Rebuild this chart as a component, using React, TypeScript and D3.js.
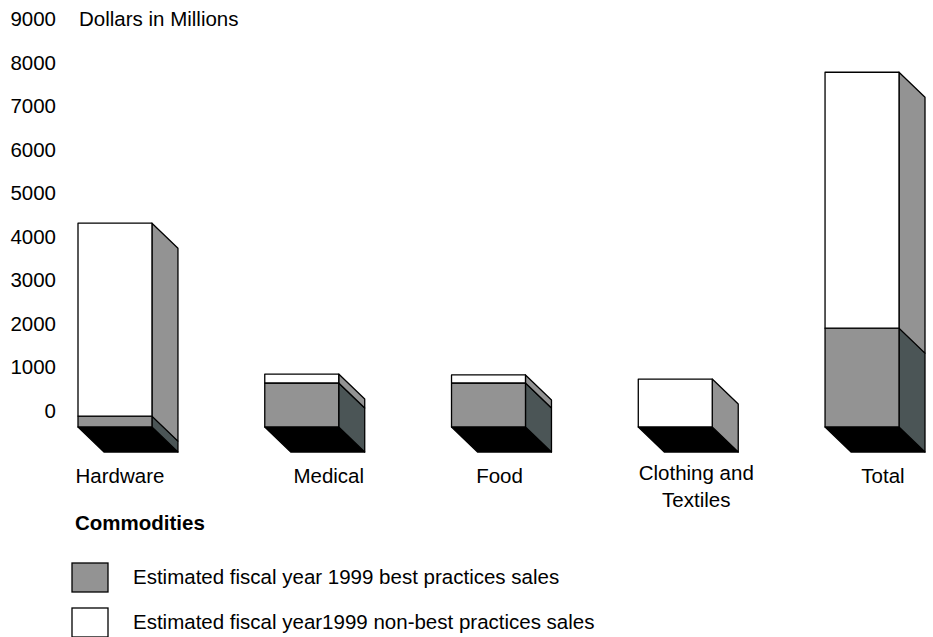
import React from "react";
import * as d3 from "d3";

// values in millions of dollars
const categories = ["Hardware", "Medical", "Food", "Clothing and Textiles", "Total"];
const bestPractices = [250, 1010, 1010, 0, 2270];
const nonBestPractices = [4430, 205, 185, 1100, 5875];
const yTicks = [0, 1000, 2000, 3000, 4000, 5000, 6000, 7000, 8000, 9000];
const legendLabels = [
  "Estimated fiscal year 1999 best practices sales",
  "Estimated fiscal year1999 non-best practices sales",
];
const categoryLines: Record<string, string[]> = {
  "Clothing and Textiles": ["Clothing and", "Textiles"],
};
// small horizontal nudges of the category labels, as in the original
const labelNudge = [5, 27, 11, 21, 21];

const W = 933;
const H = 637;
const DX = 26;
const DY = 25;
const FONT = "'Liberation Sans', Arial, sans-serif";

const GRAY = "#939393";
const SLATE = "#4b5556";

const x = d3.scaleBand<string>().domain(categories).range([78, 899]).paddingInner(0.604).paddingOuter(0);
const y = d3.scaleLinear().domain([0, 9000]).range([427, 35]);

const T = ({ x: tx, y: ty, children, anchor = "start", weight = 400 }: any) => (
  <text x={tx} y={ty} textAnchor={anchor} fontFamily={FONT} fontSize={20.5} fontWeight={weight} fill="#000">
    {children}
  </text>
);

const poly = (pts: [number, number][]) => pts.map((p) => p.join(",")).join(" ");

export default function App() {
  const bw = x.bandwidth();
  return (
    <div style={{ position: "absolute", left: 0, top: 0 }}>
      <svg width={W} height={H} style={{ display: "block", background: "#fff" }}>
        {yTicks.map((t) => (
          <T key={t} x={56} y={y(t) - 9} anchor="end">
            {t}
          </T>
        ))}
        <T x={79} y={y(9000) - 9}>Dollars in Millions</T>

        {categories.map((c, i) => {
          const x0 = x(c)!;
          const x1 = x0 + bw;
          const y0 = y(0);
          const yB = y(bestPractices[i]);
          const yT = y(bestPractices[i] + nonBestPractices[i]);
          const segs = [
            { top: yB, bot: y0, front: GRAY, side: SLATE, v: bestPractices[i] },
            { top: yT, bot: yB, front: "#fff", side: GRAY, v: nonBestPractices[i] },
          ].filter((s) => s.v > 0);
          return (
            <g key={c} stroke="#000" strokeWidth={1.3} strokeLinejoin="round">
              <polygon
                points={poly([[x0, y0], [x1, y0], [x1 + DX, y0 + DY], [x0 + DX, y0 + DY]])}
                fill="#000"
              />
              {segs.map((s, k) => (
                <polygon
                  key={"s" + k}
                  points={poly([[x1, s.top], [x1 + DX, s.top + DY], [x1 + DX, s.bot + DY], [x1, s.bot]])}
                  fill={s.side}
                />
              ))}
              {segs.map((s, k) => (
                <rect key={"f" + k} x={x0} y={s.top} width={bw} height={s.bot - s.top} fill={s.front} />
              ))}
            </g>
          );
        })}

        {categories.map((c, i) => {
          const cx = x(c)! + bw / 2 + labelNudge[i];
          const lines = categoryLines[c] || [c];
          const base = lines.length > 1 ? 480 : 483;
          return lines.map((l, k) => (
            <T key={c + k} x={cx} y={base + k * 26.5} anchor="middle">
              {l}
            </T>
          ));
        })}

        <T x={75} y={530} weight={700}>Commodities</T>

        {legendLabels.map((l, i) => (
          <g key={l}>
            <rect
              x={72}
              y={563 + i * 45}
              width={36}
              height={29}
              fill={i === 0 ? GRAY : "#fff"}
              stroke="#000"
              strokeWidth={1.3}
            />
            <T x={133} y={584 + i * 45}>{l}</T>
          </g>
        ))}
      </svg>
    </div>
  );
}
